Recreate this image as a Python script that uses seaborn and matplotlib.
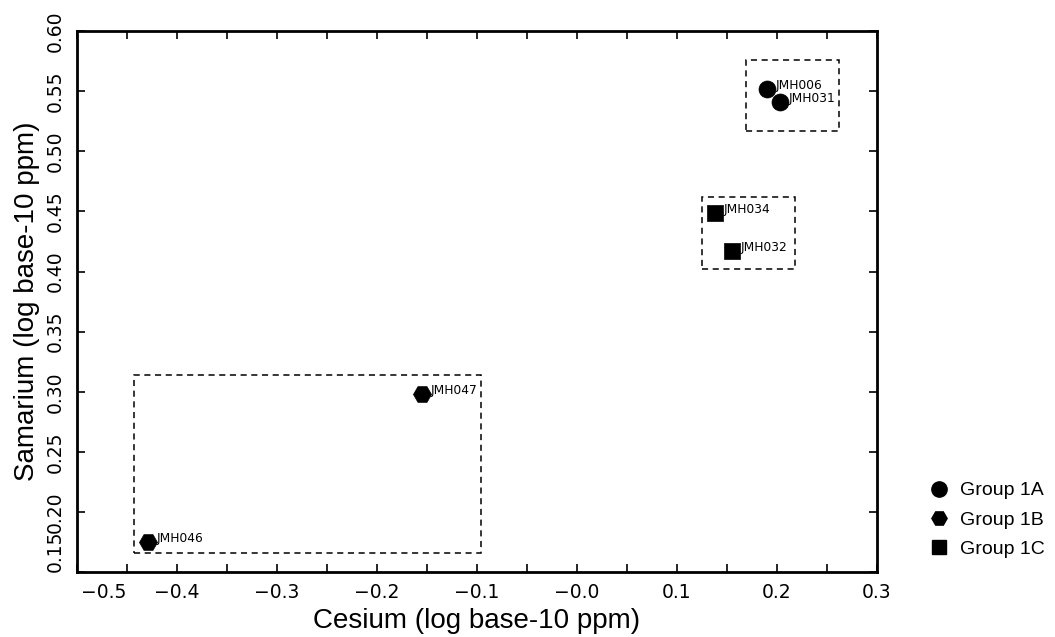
import matplotlib
matplotlib.use("Agg")
import matplotlib.pyplot as plt
from matplotlib.patches import Rectangle
from matplotlib.lines import Line2D
import numpy as np
import pandas as pd
import seaborn as sns

# Sample data: log10 concentrations (ppm)
samples = ["JMH006", "JMH031", "JMH047", "JMH046", "JMH034", "JMH032"]
groups = ["Group 1A", "Group 1A", "Group 1B", "Group 1B", "Group 1C", "Group 1C"]
cesium = [0.190, 0.203, -0.155, -0.429, 0.138, 0.155]
samarium = [0.552, 0.541, 0.298, 0.175, 0.449, 0.417]

# Dashed enclosures per group: (x0, x1, y0, y1)
group_names = ["Group 1A", "Group 1B", "Group 1C"]
box_x0 = [0.169, -0.443, 0.125]
box_x1 = [0.262, -0.096, 0.218]
box_y0 = [0.517, 0.166, 0.402]
box_y1 = [0.576, 0.314, 0.462]

x_ticks = [-0.5, -0.4, -0.3, -0.2, -0.1, 0.0, 0.1, 0.2, 0.3]
x_ticklabels = ["\u22120.5", "\u22120.4", "\u22120.3", "\u22120.2", "\u22120.1",
                "\u22120.0", "0.1", "0.2", "0.3"]
y_ticks = [0.15, 0.20, 0.25, 0.30, 0.35, 0.40, 0.45, 0.50, 0.55, 0.60]
y_ticklabels = ["0.15", "0.20", "0.25", "0.30", "0.35", "0.40", "0.45",
                "0.50", "0.55", "0.60"]

df = pd.DataFrame({"sample": samples, "group": groups,
                   "cesium": cesium, "samarium": samarium})

sns.set_theme(style="ticks")
plt.rcParams["font.family"] = ["DejaVu Sans"]
plt.rcParams["text.color"] = "black"
plt.rcParams["axes.labelcolor"] = "black"

fig = plt.figure(figsize=(10.55, 6.37), dpi=100)
ax = fig.add_axes([0.073, 0.102, 0.758, 0.849])

markers = {"Group 1A": "o", "Group 1B": "H", "Group 1C": "s"}
sizes = {"Group 1A": 150, "Group 1B": 170, "Group 1C": 140}
for g in group_names:
    sub = df[df["group"] == g]
    sns.scatterplot(data=sub, x="cesium", y="samarium", marker=markers[g],
                    s=sizes[g], color="black", edgecolor="black",
                    linewidth=0.5, ax=ax, legend=False, zorder=3)

for name, x, y in zip(samples, cesium, samarium):
    ax.annotate(name, (x, y), xytext=(6.5, 2.5), textcoords="offset points",
                fontsize=8.8, family="DejaVu Sans",
                ha="left", va="center", color="black")

for x0, x1, y0, y1 in zip(box_x0, box_x1, box_y0, box_y1):
    ax.add_patch(Rectangle((x0, y0), x1 - x0, y1 - y0, fill=False,
                           edgecolor="black", linestyle=(0, (4, 3)),
                           linewidth=1.1, zorder=2))

ax.set_xlim(-0.5, 0.3)
ax.set_ylim(0.15, 0.60)
ax.set_xticks(x_ticks)
# first label of each axis is drawn separately, nudged off the corner
ax.set_xticklabels([""] + x_ticklabels[1:])
ax.set_xticks(np.arange(-0.45, 0.3, 0.1), minor=True)
ax.set_yticks(y_ticks)
ax.set_yticklabels([""] + y_ticklabels[1:], rotation=90, va="center")

ax.tick_params(axis="both", which="both", direction="in", length=6, width=1.2,
               top=True, right=True, labelsize=13.5, colors="black")
ax.tick_params(axis="x", pad=8)
ax.tick_params(axis="y", pad=9)
for side in ax.spines.values():
    side.set_linewidth(2)
    side.set_color("black")

xform_x = ax.get_xaxis_transform()
ax.annotate(x_ticklabels[0], (x_ticks[0], 0), xycoords=xform_x,
            xytext=(19, -8), textcoords="offset points", ha="center", va="top",
            fontsize=13.5, color="black", annotation_clip=False)
xform_y = ax.get_yaxis_transform()
ax.annotate(y_ticklabels[0], (0, y_ticks[0]), xycoords=xform_y,
            xytext=(-9, 15), textcoords="offset points", ha="right", va="center",
            rotation=90, fontsize=13.5, color="black", annotation_clip=False)

ax.set_xlabel("Cesium (log base-10 ppm)", fontsize=20, family="Liberation Sans", labelpad=4)
ax.set_ylabel("Samarium (log base-10 ppm)", fontsize=20, family="Liberation Sans", labelpad=4)

handles = [Line2D([], [], marker=markers[g], color="black", linestyle="",
                  markersize=11 if g != "Group 1C" else 10) for g in group_names]
fig.legend(handles, group_names, loc="center left", bbox_to_anchor=(0.862, 0.184),
           frameon=False, prop={"family": "Liberation Sans", "size": 14},
           handletextpad=0.5, labelspacing=0.6, handlelength=1.2,
           labelcolor="black")

fig.savefig("out.png", dpi=100)
